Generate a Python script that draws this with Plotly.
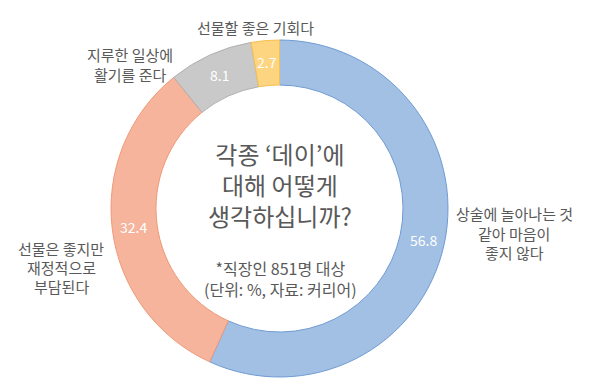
import numpy as np
import plotly.graph_objects as go

categories = ["상술에 놀아나는 것 같아 마음이 좋지 않다", "선물은 좋지만 재정적으로 부담된다",
              "지루한 일상에 활기를 준다", "선물할 좋은 기회다"]
values = [56.8, 32.4, 8.1, 2.7]
value_labels = ["56.8", "32.4", "8.1", "2.7"]
fill_colors = ["#a2bfe4", "#f5b49b", "#c9c9c9", "#fdd47f"]
edge_colors = ["#6f9bd3", "#ee9a78", "#b0b0b0", "#f5c04f"]

FONT = "Noto Sans CJK KR"
GRAY = "#595959"
W, H = 591, 391
DOM_X = [0.1743, 0.7445]
DOM_Y = [0.0562, 0.9182]
HOLE = 0.733

fig = go.Figure(go.Pie(
    labels=categories, values=values,
    textinfo="none",
    sort=False, direction="clockwise", rotation=0, hole=HOLE,
    marker=dict(colors=fill_colors, line=dict(color=edge_colors, width=1)),
    domain=dict(x=DOM_X, y=DOM_Y),
    showlegend=False, hoverinfo="label+value",
))

# value labels placed at each slice's mid-angle, in the middle of the ring
cx = (DOM_X[0] + DOM_X[1]) / 2 * W
cy = (DOM_Y[0] + DOM_Y[1]) / 2 * H
R = 0.5 * min((DOM_X[1] - DOM_X[0]) * W, (DOM_Y[1] - DOM_Y[0]) * H)
r_mid = R * (1 + HOLE) / 2 + 1
total = sum(values)
cum = np.cumsum([0] + values[:-1])
for v, c, lab in zip(values, cum, value_labels):
    th = np.deg2rad((c + v / 2) / total * 360)
    px = cx + r_mid * np.sin(th)
    py = cy + r_mid * np.cos(th)
    fig.add_annotation(x=px / W, y=py / H, xref="paper", yref="paper", text=lab,
                       showarrow=False, xanchor="center", yanchor="middle",
                       font=dict(family=FONT, size=14, color="white"))

def lines(x, y0, step, texts, size=15):
    for i, t in enumerate(texts):
        y = y0 + i * step
        fig.add_annotation(x=x / W, y=1 - y / H, xref="paper", yref="paper",
                           text=t, showarrow=False, xanchor="center", yanchor="middle",
                           borderpad=0,
                           font=dict(family=FONT, size=size, color=GRAY))

def block(x, yc, texts, size):
    fig.add_annotation(x=x / W, y=1 - yc / H, xref="paper", yref="paper",
                       text="<br>".join(texts), showarrow=False, align="center",
                       xanchor="center", yanchor="middle",
                       font=dict(family=FONT, size=size, color=GRAY))

lines(247, 20, 20, ["선물할 좋은 기회다"])
lines(122, 47, 19, ["지루한 일상에", "활기를 준다"])
lines(53, 240, 19, ["선물은 좋지만", "재정적으로", "부담된다"])
lines(506, 206, 19, ["상술에 놀아나는 것", "같아 마음이", "좋지 않다"])
block(272, 176, ["각종 ‘데이’에", "대해 어떻게", "생각하십니까?"], 24)
block(272, 270, ["*직장인 851명 대상", "(단위: %, 자료: 커리어)"], 16)

fig.update_layout(width=W, height=H, margin=dict(l=0, r=0, t=0, b=0),
                  paper_bgcolor="white", plot_bgcolor="white")
fig.write_html("out.html")
